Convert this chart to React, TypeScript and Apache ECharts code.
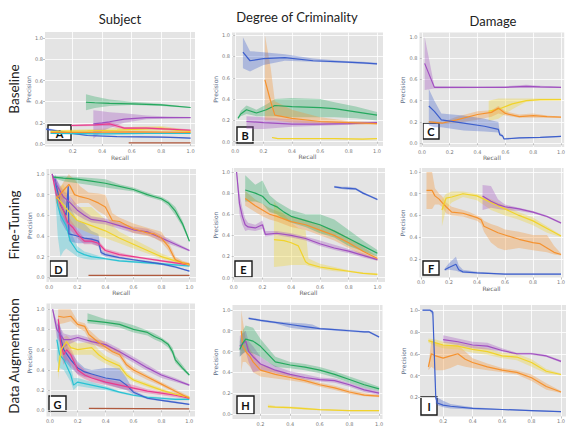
import React, { useEffect, useRef } from "react";
import * as echarts from "echarts";

type Pt = [number, number, number, number]; // recall, precision, lower, upper

const columnTitles = ["Subject", "Degree of Criminality", "Damage"];
const rowTitles = ["Baseline", "Fine-Tuning", "Data Augmentation"];
const panelLetters = ["A", "B", "C", "D", "E", "F", "G", "H", "I"];
const tickValues = [0, 0.2, 0.4, 0.6, 0.8, 1.0];

const COLORS: Record<string, string> = {
  blue: "#3d5fcc",
  orange: "#f5922f",
  green: "#25a85e",
  purple: "#a04fc0",
  yellow: "#f1d32b",
  pink: "#ea3a8d",
  cyan: "#28c2d3",
  brown: "#b05a3e",
};

// ---------- Panel A: Subject / Baseline ----------
const A_green: Pt[] = [[0.29,0.395,0.32,0.47],[0.35,0.39,0.34,0.45],[0.45,0.385,0.36,0.42],[0.6,0.38,0.37,0.40],[0.8,0.37,0.36,0.38],[1.0,0.345,0.34,0.35]];
const A_purple: Pt[] = [[0.34,0.19,0.05,0.32],[0.4,0.2,0.12,0.31],[0.45,0.21,0.15,0.3],[0.55,0.235,0.2,0.29],[0.7,0.25,0.235,0.27],[0.85,0.25,0.24,0.26],[1.0,0.25,0.245,0.255]];
const A_pink: Pt[] = [[0.19,0.175,0.165,0.185],[0.35,0.18,0.17,0.19],[0.45,0.19,0.17,0.21],[0.5,0.17,0.15,0.19],[0.55,0.15,0.14,0.16],[0.7,0.15,0.14,0.16],[0.85,0.14,0.13,0.15],[1.0,0.13,0.12,0.14]];
const A_yellow: Pt[] = [[0.05,0.12,0.11,0.13],[0.3,0.125,0.11,0.14],[0.5,0.13,0.115,0.15],[0.65,0.14,0.12,0.165],[0.8,0.15,0.125,0.17],[0.9,0.13,0.12,0.15],[1.0,0.12,0.11,0.13]];
const A_orange: Pt[] = [[0.05,0.11,0.1,0.12],[0.3,0.11,0.1,0.12],[0.6,0.115,0.105,0.125],[1.0,0.11,0.105,0.115]];
const A_cyan: Pt[] = [[0.05,0.1,0.095,0.105],[0.4,0.095,0.09,0.1],[0.7,0.1,0.095,0.105],[1.0,0.1,0.095,0.105]];
const A_blue: Pt[] = [[0.02,0.14,0.13,0.15],[0.15,0.11,0.1,0.12],[0.3,0.08,0.075,0.085],[0.5,0.07,0.065,0.075],[0.8,0.065,0.06,0.07],[0.92,0.06,0.055,0.065],[1.0,0.055,0.05,0.06]];
const A_brown: Pt[] = [[0.58,0.01,0.008,0.012],[1.0,0.01,0.008,0.012]];

// ---------- Panel B: Degree of Criminality / Baseline ----------
const B_blue: Pt[] = [[0.055,0.84,0.69,0.98],[0.105,0.76,0.66,0.85],[0.2,0.78,0.72,0.84],[0.35,0.79,0.76,0.82],[0.55,0.76,0.75,0.78],[0.75,0.75,0.74,0.76],[0.9,0.74,0.73,0.75],[1.0,0.73,0.725,0.74]];
const B_orange: Pt[] = [[0.21,0.58,0.2,1.0],[0.25,0.38,0.2,0.7],[0.28,0.25,0.2,0.38],[0.4,0.22,0.18,0.3],[0.6,0.19,0.17,0.23],[0.8,0.18,0.165,0.195],[1.0,0.17,0.16,0.18]];
const B_green: Pt[] = [[0.02,0.22,0.21,0.23],[0.04,0.26,0.24,0.29],[0.08,0.3,0.26,0.34],[0.15,0.27,0.24,0.3],[0.22,0.3,0.24,0.35],[0.28,0.34,0.24,0.4],[0.4,0.33,0.23,0.41],[0.6,0.32,0.23,0.4],[0.7,0.31,0.23,0.37],[0.85,0.28,0.22,0.33],[1.0,0.25,0.2,0.28]];
const B_purple: Pt[] = [[0.08,0.19,0.12,0.24],[0.2,0.18,0.12,0.23],[0.4,0.165,0.14,0.21],[0.6,0.165,0.15,0.19],[0.8,0.17,0.16,0.185],[1.0,0.18,0.17,0.19]];
const B_yellow: Pt[] = [[0.26,0.04,0.035,0.045],[0.3,0.03,0.025,0.035],[0.5,0.03,0.025,0.035],[0.7,0.03,0.025,0.035],[0.9,0.025,0.02,0.03],[1.0,0.03,0.025,0.035]];

// ---------- Panel C: Damage / Baseline ----------
const C_purple: Pt[] = [[0.02,0.75,0.5,1.0],[0.09,0.525,0.515,0.535],[0.4,0.525,0.52,0.53],[0.6,0.525,0.52,0.535],[0.75,0.535,0.52,0.55],[0.85,0.53,0.52,0.54],[1.0,0.525,0.52,0.53]];
const C_blue: Pt[] = [[0.05,0.35,0.17,0.51],[0.09,0.3,0.15,0.4],[0.14,0.22,0.15,0.28],[0.3,0.19,0.12,0.26],[0.45,0.16,0.11,0.23],[0.55,0.13,0.1,0.2],[0.56,0.08,0.07,0.1],[0.58,0.07,0.06,0.08],[0.59,0.04,0.035,0.05],[0.7,0.05,0.045,0.055],[0.85,0.055,0.05,0.06],[1.0,0.065,0.06,0.07]];
const C_orange: Pt[] = [[0.05,0.2,0.19,0.21],[0.15,0.19,0.18,0.2],[0.25,0.22,0.19,0.25],[0.4,0.27,0.22,0.3],[0.5,0.29,0.25,0.31],[0.55,0.33,0.28,0.35],[0.6,0.28,0.26,0.3],[0.7,0.25,0.24,0.27],[0.8,0.26,0.24,0.28],[0.9,0.25,0.24,0.26],[1.0,0.245,0.24,0.25]];
const C_yellow: Pt[] = [[0.48,0.3,0.21,0.4],[0.55,0.32,0.23,0.42],[0.65,0.37,0.32,0.42],[0.75,0.4,0.39,0.42],[0.85,0.41,0.4,0.42],[1.0,0.41,0.405,0.42]];

// ---------- Panel D: Subject / Fine-Tuning ----------
const D_green: Pt[] = [[0.03,0.97,0.96,0.98],[0.1,0.96,0.93,0.98],[0.2,0.95,0.91,0.97],[0.3,0.93,0.89,0.96],[0.4,0.91,0.87,0.95],[0.5,0.88,0.85,0.9],[0.6,0.85,0.83,0.87],[0.7,0.8,0.78,0.82],[0.75,0.78,0.76,0.8],[0.8,0.76,0.74,0.78],[0.85,0.72,0.69,0.74],[0.9,0.64,0.6,0.68],[0.95,0.52,0.49,0.55],[0.98,0.42,0.4,0.44],[1.0,0.35,0.34,0.36]];
const D_orange: Pt[] = [[0.05,0.76,0.72,0.8],[0.1,0.84,0.76,0.92],[0.14,0.9,0.8,1.0],[0.15,0.88,0.78,0.98],[0.18,0.8,0.7,0.95],[0.22,0.78,0.72,0.88],[0.28,0.76,0.72,0.82],[0.35,0.72,0.64,0.81],[0.4,0.68,0.6,0.8],[0.45,0.55,0.5,0.62],[0.5,0.54,0.5,0.58],[0.6,0.47,0.43,0.52],[0.7,0.43,0.4,0.48],[0.75,0.42,0.38,0.46],[0.8,0.38,0.34,0.44],[0.85,0.3,0.26,0.34],[0.88,0.22,0.19,0.26],[0.9,0.17,0.15,0.2],[0.95,0.14,0.13,0.16],[1.0,0.13,0.12,0.14]];
const D_purple: Pt[] = [[0.02,1.0,0.98,1.0],[0.05,0.9,0.85,0.95],[0.1,0.78,0.72,0.84],[0.15,0.72,0.65,0.78],[0.2,0.65,0.6,0.7],[0.25,0.6,0.56,0.64],[0.3,0.56,0.53,0.59],[0.4,0.54,0.51,0.57],[0.5,0.5,0.47,0.53],[0.6,0.46,0.43,0.49],[0.7,0.44,0.41,0.47],[0.8,0.38,0.35,0.41],[0.9,0.32,0.3,0.34],[1.0,0.26,0.25,0.27]];
const D_yellow: Pt[] = [[0.05,0.78,0.72,0.86],[0.1,0.7,0.6,0.9],[0.15,0.62,0.52,0.75],[0.2,0.55,0.48,0.68],[0.3,0.5,0.42,0.68],[0.4,0.45,0.38,0.56],[0.5,0.38,0.33,0.44],[0.6,0.32,0.28,0.37],[0.7,0.26,0.23,0.3],[0.8,0.2,0.18,0.23],[0.9,0.16,0.14,0.18],[1.0,0.12,0.11,0.13]];
const D_pink: Pt[] = [[0.02,1.0,0.98,1.0],[0.05,0.8,0.72,0.88],[0.1,0.65,0.58,0.72],[0.13,0.53,0.48,0.6],[0.17,0.48,0.43,0.52],[0.2,0.42,0.38,0.46],[0.25,0.35,0.32,0.38],[0.3,0.35,0.32,0.38],[0.35,0.33,0.3,0.36],[0.4,0.26,0.24,0.28],[0.5,0.22,0.2,0.24],[0.6,0.2,0.19,0.21],[0.7,0.18,0.17,0.19],[0.8,0.16,0.15,0.17],[0.9,0.14,0.13,0.15],[1.0,0.12,0.11,0.13]];
const D_blue: Pt[] = [[0.04,0.95,0.9,1.0],[0.08,0.7,0.55,0.85],[0.12,0.6,0.45,0.72],[0.135,0.88,0.45,0.9],[0.14,0.42,0.35,0.7],[0.2,0.4,0.33,0.55],[0.25,0.38,0.33,0.52],[0.3,0.37,0.33,0.45],[0.35,0.35,0.3,0.42],[0.37,0.24,0.22,0.27],[0.4,0.22,0.2,0.24],[0.5,0.19,0.18,0.2],[0.6,0.17,0.16,0.18],[0.7,0.15,0.14,0.16],[0.8,0.13,0.12,0.14],[0.9,0.1,0.09,0.11],[1.0,0.06,0.055,0.065]];
const D_cyan: Pt[] = [[0.04,0.93,0.85,1.0],[0.06,0.7,0.4,0.85],[0.08,0.6,0.2,0.75],[0.1,0.55,0.25,0.7],[0.12,0.5,0.28,0.6],[0.15,0.35,0.25,0.45],[0.2,0.25,0.2,0.3],[0.25,0.22,0.18,0.25],[0.3,0.2,0.17,0.23],[0.35,0.19,0.17,0.21],[0.4,0.18,0.17,0.19],[0.5,0.16,0.15,0.17],[0.6,0.15,0.14,0.16],[0.7,0.14,0.13,0.15],[0.8,0.13,0.12,0.14],[0.9,0.12,0.11,0.13],[1.0,0.11,0.1,0.12]];
const D_brown: Pt[] = [[0.28,0.02,0.018,0.022],[1.0,0.02,0.018,0.022]];

// ---------- Panel E: Degree of Criminality / Fine-Tuning ----------
const E_blue: Pt[] = [[0.7,0.86,0.85,0.87],[0.75,0.85,0.84,0.86],[0.8,0.845,0.83,0.86],[0.85,0.84,0.83,0.85],[0.9,0.8,0.79,0.81],[0.95,0.77,0.76,0.78],[1.0,0.74,0.73,0.75]];
const E_green: Pt[] = [[0.08,0.83,0.72,0.97],[0.15,0.8,0.72,0.88],[0.2,0.77,0.7,0.92],[0.25,0.7,0.62,0.78],[0.3,0.67,0.6,0.72],[0.35,0.62,0.55,0.68],[0.4,0.58,0.52,0.64],[0.5,0.54,0.48,0.6],[0.6,0.5,0.42,0.6],[0.7,0.44,0.38,0.55],[0.8,0.37,0.3,0.45],[0.9,0.3,0.25,0.35],[1.0,0.23,0.2,0.26]];
const E_orange: Pt[] = [[0.08,0.75,0.68,0.82],[0.15,0.68,0.62,0.74],[0.2,0.64,0.58,0.7],[0.25,0.6,0.55,0.66],[0.3,0.58,0.53,0.63],[0.4,0.53,0.48,0.58],[0.5,0.5,0.45,0.55],[0.6,0.45,0.4,0.5],[0.7,0.4,0.35,0.45],[0.8,0.33,0.28,0.38],[0.9,0.25,0.21,0.29],[1.0,0.18,0.16,0.2]];
const E_purple: Pt[] = [[0.02,1.0,0.98,1.0],[0.04,0.7,0.6,0.8],[0.06,0.58,0.5,0.66],[0.08,0.5,0.44,0.56],[0.1,0.48,0.45,0.52],[0.15,0.47,0.44,0.5],[0.2,0.5,0.46,0.54],[0.22,0.41,0.39,0.44],[0.3,0.42,0.4,0.44],[0.4,0.4,0.38,0.42],[0.5,0.37,0.35,0.39],[0.6,0.32,0.3,0.35],[0.7,0.28,0.26,0.31],[0.8,0.25,0.23,0.27],[0.9,0.21,0.19,0.23],[1.0,0.17,0.16,0.18]];
const E_yellow: Pt[] = [[0.28,0.36,0.1,0.72],[0.35,0.35,0.11,0.6],[0.4,0.33,0.12,0.52],[0.45,0.3,0.12,0.47],[0.5,0.15,0.12,0.45],[0.52,0.13,0.11,0.18],[0.6,0.1,0.08,0.13],[0.7,0.08,0.06,0.1],[0.8,0.06,0.05,0.07],[0.9,0.04,0.035,0.05],[1.0,0.03,0.02,0.04]];

// ---------- Panel F: Damage / Fine-Tuning ----------
const F_orange: Pt[] = [[0.04,0.83,0.66,1.0],[0.08,0.83,0.66,1.0],[0.1,0.78,0.7,0.85],[0.13,0.75,0.7,0.8],[0.15,0.72,0.68,0.78],[0.18,0.68,0.62,0.72],[0.22,0.63,0.6,0.68],[0.3,0.62,0.59,0.65],[0.35,0.6,0.57,0.63],[0.4,0.58,0.55,0.6],[0.43,0.56,0.52,0.58],[0.45,0.5,0.45,0.55],[0.5,0.47,0.35,0.52],[0.55,0.44,0.3,0.5],[0.6,0.42,0.28,0.47],[0.7,0.38,0.3,0.45],[0.8,0.35,0.28,0.42],[0.85,0.34,0.27,0.42],[0.9,0.3,0.26,0.42],[0.95,0.26,0.24,0.32],[1.0,0.24,0.23,0.25]];
const F_yellow: Pt[] = [[0.15,0.65,0.5,0.75],[0.18,0.76,0.66,0.8],[0.22,0.77,0.72,0.82],[0.3,0.8,0.77,0.82],[0.4,0.78,0.74,0.8],[0.5,0.72,0.65,0.75],[0.6,0.66,0.6,0.69],[0.7,0.6,0.56,0.63],[0.8,0.55,0.51,0.58],[0.9,0.48,0.44,0.5],[1.0,0.41,0.4,0.42]];
const F_purple: Pt[] = [[0.44,0.78,0.65,0.88],[0.5,0.73,0.67,0.87],[0.55,0.7,0.66,0.75],[0.6,0.68,0.65,0.7],[0.7,0.66,0.64,0.67],[0.8,0.63,0.62,0.64],[0.9,0.59,0.58,0.6],[1.0,0.53,0.52,0.54]];
const F_blue: Pt[] = [[0.17,0.1,0.09,0.11],[0.2,0.12,0.1,0.16],[0.25,0.15,0.09,0.22],[0.27,0.1,0.08,0.14],[0.3,0.08,0.07,0.1],[0.4,0.07,0.065,0.08],[0.6,0.06,0.055,0.065],[0.8,0.06,0.055,0.065],[1.0,0.06,0.055,0.065]];

// ---------- Panel G: Subject / Data Augmentation ----------
const G_green: Pt[] = [[0.27,0.89,0.86,0.96],[0.4,0.87,0.84,0.9],[0.5,0.85,0.82,0.88],[0.6,0.8,0.77,0.84],[0.7,0.77,0.74,0.79],[0.75,0.73,0.7,0.76],[0.8,0.7,0.67,0.72],[0.85,0.65,0.62,0.67],[0.88,0.58,0.55,0.62],[0.9,0.5,0.47,0.54],[0.95,0.42,0.4,0.45],[1.0,0.35,0.34,0.36]];
const G_orange: Pt[] = [[0.06,0.93,0.85,1.0],[0.1,0.92,0.86,1.0],[0.15,0.93,0.88,1.0],[0.2,0.85,0.82,0.88],[0.25,0.83,0.78,0.86],[0.28,0.75,0.7,0.8],[0.35,0.67,0.63,0.71],[0.45,0.58,0.55,0.62],[0.5,0.55,0.52,0.6],[0.55,0.45,0.42,0.48],[0.6,0.4,0.37,0.43],[0.7,0.33,0.3,0.35],[0.8,0.26,0.24,0.28],[0.9,0.19,0.17,0.21],[1.0,0.12,0.11,0.14]];
const G_purple: Pt[] = [[0.02,1.0,0.98,1.0],[0.05,0.8,0.72,0.88],[0.1,0.7,0.62,0.76],[0.15,0.7,0.66,0.74],[0.2,0.72,0.69,0.75],[0.3,0.68,0.65,0.71],[0.4,0.65,0.62,0.68],[0.5,0.58,0.55,0.61],[0.6,0.5,0.47,0.53],[0.7,0.42,0.39,0.45],[0.8,0.35,0.32,0.37],[0.9,0.3,0.28,0.32],[1.0,0.25,0.24,0.26]];
const G_yellow: Pt[] = [[0.06,0.38,0.3,0.5],[0.08,0.6,0.5,0.7],[0.12,0.68,0.6,0.74],[0.15,0.62,0.55,0.7],[0.2,0.6,0.55,0.66],[0.3,0.62,0.55,0.68],[0.35,0.55,0.5,0.6],[0.4,0.5,0.46,0.54],[0.5,0.44,0.4,0.47],[0.55,0.35,0.32,0.38],[0.6,0.3,0.28,0.32],[0.7,0.25,0.23,0.27],[0.8,0.2,0.18,0.22],[0.9,0.16,0.15,0.17],[1.0,0.13,0.12,0.14]];
const G_pink: Pt[] = [[0.06,0.9,0.8,0.95],[0.08,0.65,0.55,0.75],[0.1,0.55,0.45,0.65],[0.12,0.6,0.5,0.66],[0.15,0.55,0.45,0.62],[0.2,0.4,0.35,0.46],[0.25,0.35,0.31,0.4],[0.3,0.32,0.28,0.36],[0.4,0.28,0.25,0.31],[0.5,0.25,0.22,0.28],[0.6,0.22,0.19,0.25],[0.7,0.19,0.17,0.21],[0.8,0.17,0.15,0.19],[0.9,0.15,0.13,0.17],[1.0,0.12,0.11,0.13]];
const G_blue: Pt[] = [[0.06,0.85,0.75,0.92],[0.08,0.7,0.6,0.8],[0.1,0.6,0.5,0.7],[0.15,0.5,0.42,0.58],[0.2,0.42,0.36,0.48],[0.25,0.38,0.33,0.42],[0.3,0.36,0.32,0.4],[0.4,0.32,0.26,0.42],[0.5,0.3,0.22,0.42],[0.55,0.25,0.2,0.32],[0.6,0.18,0.16,0.2],[0.7,0.12,0.11,0.13],[0.8,0.1,0.09,0.11],[0.9,0.08,0.07,0.09],[1.0,0.06,0.055,0.065]];
const G_cyan: Pt[] = [[0.05,0.7,0.5,0.85],[0.07,0.55,0.42,0.7],[0.1,0.5,0.4,0.6],[0.15,0.35,0.28,0.45],[0.17,0.25,0.2,0.32],[0.2,0.28,0.24,0.32],[0.3,0.25,0.22,0.28],[0.4,0.22,0.2,0.24],[0.5,0.18,0.17,0.19],[0.6,0.15,0.14,0.16],[0.7,0.13,0.12,0.14],[0.8,0.12,0.11,0.13],[0.9,0.11,0.1,0.12],[1.0,0.11,0.1,0.12]];
const G_brown: Pt[] = [[0.28,0.02,0.018,0.022],[1.0,0.015,0.013,0.017]];

// ---------- Panel H: Degree of Criminality / Data Augmentation ----------
const H_blue: Pt[] = [[0.12,0.92,0.91,0.93],[0.2,0.9,0.89,0.91],[0.3,0.88,0.87,0.89],[0.4,0.86,0.83,0.88],[0.5,0.84,0.81,0.87],[0.55,0.83,0.81,0.86],[0.6,0.82,0.81,0.83],[0.7,0.81,0.8,0.82],[0.8,0.8,0.79,0.81],[0.9,0.79,0.78,0.8],[0.93,0.79,0.78,0.8],[1.0,0.74,0.73,0.75]];
const H_orange: Pt[] = [[0.07,0.8,0.4,1.0],[0.08,0.65,0.5,0.9],[0.1,0.6,0.5,0.72],[0.13,0.55,0.45,0.62],[0.15,0.5,0.4,0.58],[0.2,0.42,0.36,0.48],[0.3,0.38,0.34,0.42],[0.4,0.35,0.32,0.38],[0.5,0.32,0.3,0.34],[0.6,0.28,0.26,0.3],[0.7,0.25,0.23,0.27],[0.8,0.21,0.19,0.23],[0.9,0.18,0.17,0.2],[1.0,0.17,0.16,0.18]];
const H_purple: Pt[] = [[0.06,0.65,0.55,0.75],[0.1,0.7,0.6,0.8],[0.12,0.6,0.5,0.7],[0.15,0.55,0.4,0.65],[0.2,0.48,0.42,0.55],[0.25,0.45,0.41,0.5],[0.3,0.42,0.39,0.46],[0.4,0.38,0.36,0.41],[0.5,0.35,0.33,0.38],[0.6,0.33,0.31,0.35],[0.7,0.32,0.3,0.34],[0.8,0.28,0.26,0.3],[0.9,0.23,0.21,0.25],[1.0,0.2,0.18,0.22]];
const H_green: Pt[] = [[0.06,0.62,0.55,0.7],[0.08,0.68,0.58,0.8],[0.1,0.72,0.6,0.85],[0.15,0.7,0.58,0.83],[0.2,0.65,0.55,0.72],[0.3,0.5,0.45,0.55],[0.4,0.47,0.44,0.5],[0.5,0.45,0.42,0.48],[0.6,0.42,0.39,0.45],[0.7,0.38,0.35,0.41],[0.8,0.33,0.3,0.36],[0.9,0.28,0.25,0.31],[1.0,0.24,0.22,0.26]];
const H_yellow: Pt[] = [[0.25,0.07,0.06,0.09],[0.3,0.065,0.055,0.075],[0.4,0.06,0.05,0.07],[0.5,0.05,0.04,0.06],[0.6,0.04,0.035,0.045],[0.8,0.03,0.025,0.035],[1.0,0.03,0.025,0.035]];

// ---------- Panel I: Damage / Data Augmentation ----------
const I_blue: Pt[] = [[0.06,1.0,0.99,1.0],[0.11,1.0,0.99,1.0],[0.13,0.98,0.95,1.0],[0.14,0.6,0.5,0.7],[0.15,0.2,0.14,0.22],[0.16,0.15,0.13,0.2],[0.2,0.13,0.11,0.17],[0.25,0.12,0.1,0.14],[0.4,0.1,0.09,0.11],[0.6,0.09,0.085,0.095],[0.8,0.08,0.075,0.085],[1.0,0.07,0.065,0.075]];
const I_purple: Pt[] = [[0.2,0.73,0.7,0.77],[0.3,0.71,0.68,0.74],[0.4,0.68,0.65,0.71],[0.5,0.67,0.64,0.7],[0.6,0.63,0.62,0.65],[0.7,0.6,0.59,0.61],[0.8,0.6,0.59,0.61],[0.9,0.58,0.57,0.59],[1.0,0.53,0.52,0.54]];
const I_yellow: Pt[] = [[0.1,0.72,0.7,0.74],[0.15,0.7,0.67,0.73],[0.2,0.68,0.65,0.71],[0.3,0.67,0.64,0.7],[0.4,0.64,0.61,0.67],[0.5,0.62,0.59,0.65],[0.6,0.58,0.56,0.61],[0.7,0.57,0.54,0.6],[0.8,0.52,0.48,0.55],[0.9,0.44,0.42,0.46],[1.0,0.41,0.4,0.42]];
const I_orange: Pt[] = [[0.1,0.48,0.45,0.5],[0.12,0.6,0.48,0.72],[0.15,0.58,0.45,0.7],[0.2,0.56,0.45,0.68],[0.25,0.58,0.47,0.68],[0.3,0.6,0.5,0.68],[0.35,0.55,0.48,0.62],[0.4,0.52,0.47,0.56],[0.5,0.48,0.45,0.51],[0.6,0.45,0.43,0.47],[0.7,0.43,0.41,0.45],[0.8,0.38,0.35,0.41],[0.9,0.3,0.27,0.33],[1.0,0.25,0.24,0.26]];

const panelCurves: [string, Pt[]][][] = [
  [["brown", A_brown], ["blue", A_blue], ["cyan", A_cyan], ["orange", A_orange], ["yellow", A_yellow], ["pink", A_pink], ["purple", A_purple], ["green", A_green]],
  [["yellow", B_yellow], ["purple", B_purple], ["green", B_green], ["orange", B_orange], ["blue", B_blue]],
  [["yellow", C_yellow], ["orange", C_orange], ["blue", C_blue], ["purple", C_purple]],
  [["brown", D_brown], ["cyan", D_cyan], ["blue", D_blue], ["pink", D_pink], ["yellow", D_yellow], ["purple", D_purple], ["orange", D_orange], ["green", D_green]],
  [["yellow", E_yellow], ["purple", E_purple], ["orange", E_orange], ["green", E_green], ["blue", E_blue]],
  [["blue", F_blue], ["orange", F_orange], ["yellow", F_yellow], ["purple", F_purple]],
  [["brown", G_brown], ["cyan", G_cyan], ["blue", G_blue], ["pink", G_pink], ["yellow", G_yellow], ["purple", G_purple], ["orange", G_orange], ["green", G_green]],
  [["yellow", H_yellow], ["orange", H_orange], ["purple", H_purple], ["green", H_green], ["blue", H_blue]],
  [["orange", I_orange], ["yellow", I_yellow], ["purple", I_purple], ["blue", I_blue]],
];

// layout: plot box [left, top, right, bottom] in px, axis extents
const panelLayout = [
  { box: [45, 32, 195, 146.5], x: [0.012, 1.03], y: [-0.024, 1.06], label: [48, 125, 23, 15] },
  { box: [232, 32.5, 383, 146], x: [-0.022, 1.042], y: [-0.04, 1.025], label: [237, 127, 16, 16] },
  { box: [419.5, 32.5, 566.5, 147], x: [-0.017, 1.023], y: [-0.035, 1.04], label: [423, 123, 16, 16] },
  { box: [46.5, 169, 196, 282], x: [-0.02, 1.047], y: [-0.045, 1.048], label: [50, 261, 17, 15] },
  { box: [232, 168, 385, 282], x: [-0.012, 1.053], y: [-0.042, 1.038], label: [235, 261, 17, 16] },
  { box: [419.5, 168, 566, 277.5], x: [-0.01, 1.018], y: [0.028, 1.037], label: [423, 261, 16, 14] },
  { box: [46.5, 303.5, 195, 416.5], x: [-0.024, 1.041], y: [-0.06, 1.056], label: [49, 396, 17, 15] },
  { box: [232.5, 305, 382.5, 419], x: [0.011, 1.023], y: [-0.05, 1.048], label: [237, 396, 17, 18] },
  { box: [420, 305, 566.5, 416.5], x: [0.043, 1.034], y: [0.026, 1.046], label: [421, 397, 16, 18] },
];

const colTitlePos = [[120, 19], [297, 17], [493, 21]];
const rowTitlePos = [[14, 89], [14, 225], [14, 356]];

function ticksIn(r: number[]) {
  return tickValues.filter((v) => v >= r[0] - 1e-9 && v <= r[1] + 1e-9);
}

export default function App() {
  const ref = useRef<HTMLDivElement>(null);
  useEffect(() => {
    if (!ref.current) return;
    const chart = echarts.init(ref.current, undefined, { renderer: "svg" });
    const grids: any[] = [];
    const xAxes: any[] = [];
    const yAxes: any[] = [];
    const bands: any[] = [];
    const lines: any[] = [];
    const graphics: any[] = [];

    panelLayout.forEach((p, i) => {
      const [l, t, r, b] = p.box;
      grids.push({
        left: l, top: t, width: r - l, height: b - t,
        show: true, backgroundColor: "#e4e4e4", borderWidth: 0,
      });
      const xt = ticksIn(p.x);
      const yt = ticksIn(p.y);
      const row = Math.floor(i / 3);
      xAxes.push({
        type: "value", gridIndex: i, min: p.x[0], max: p.x[1],
        axisLine: { show: false },
        axisTick: { show: true, length: 2, customValues: xt, lineStyle: { color: "#9a9a9a", width: 0.6 } },
        axisLabel: { customValues: xt, fontSize: 5, color: "#777", margin: 2, fontFamily: "DejaVu Sans", formatter: (v: number) => v.toFixed(1) },
        splitLine: { show: true, lineStyle: { color: "#ffffff", width: 0.8 } },
        name: row < 2 ? "Recall" : "",
        nameLocation: "middle", nameGap: 7,
        nameTextStyle: { fontSize: 6, color: "#666", fontFamily: "DejaVu Sans" },
      });
      yAxes.push({
        type: "value", gridIndex: i, min: p.y[0], max: p.y[1],
        axisLine: { show: false },
        axisTick: { show: true, length: 2, customValues: yt, lineStyle: { color: "#9a9a9a", width: 0.6 } },
        axisLabel: { customValues: yt, fontSize: 5, color: "#777", margin: 2, fontFamily: "DejaVu Sans", formatter: (v: number) => v.toFixed(1) },
        splitLine: { show: true, lineStyle: { color: "#ffffff", width: 0.8 } },
        name: "Precision", nameLocation: "middle", nameGap: 14,
        nameTextStyle: { fontSize: 6, color: "#5d6b86", fontFamily: "DejaVu Sans" },
      });

      panelCurves[i].forEach(([cname, pts]) => {
        const color = COLORS[cname];
        bands.push({
          type: "custom", xAxisIndex: i, yAxisIndex: i, silent: true, z: 1,
          data: pts.map((q) => [q[0], q[2], q[3]]),
          encode: { x: 0, y: [1, 2] },
          renderItem: (params: any, api: any) => {
            if (params.dataIndex !== 0) return null;
            const up = pts.map((q) => api.coord([q[0], q[3]]));
            const lo = pts.map((q) => api.coord([q[0], q[2]])).reverse();
            return {
              type: "polygon",
              shape: { points: up.concat(lo) },
              style: { fill: color, opacity: 0.33 },
            };
          },
        });
        lines.push({
          type: "line", xAxisIndex: i, yAxisIndex: i, silent: true, z: 3,
          data: pts.map((q) => [q[0], q[1]]),
          symbol: "none", showSymbol: false,
          lineStyle: { color, width: 1.2 },
          itemStyle: { color },
        });
      });

      const [bx, by, bw, bh] = p.label;
      graphics.push({
        type: "group", x: bx, y: by, z: 100,
        children: [
          { type: "rect", shape: { x: 0, y: 0, width: bw, height: bh }, style: { fill: "#ffffff", stroke: "#1a1a1a", lineWidth: 1.4 } },
          { type: "text", x: bw / 2, y: bh / 2 + 0.5, style: { text: panelLetters[i], fontSize: 11, fontWeight: "bold", fontFamily: "Lato", fill: "#111", align: "center", verticalAlign: "middle" } },
        ],
      });
    });

    columnTitles.forEach((t, j) => {
      graphics.push({
        type: "text", x: colTitlePos[j][0], y: colTitlePos[j][1],
        style: { text: t, fontSize: 13, fontFamily: "Lato", fill: "#222", align: "center", verticalAlign: "middle" },
      });
    });
    rowTitles.forEach((t, j) => {
      graphics.push({
        type: "text", x: rowTitlePos[j][0], y: rowTitlePos[j][1], rotation: Math.PI / 2,
        style: { text: t, fontSize: 13.5, fontFamily: "Lato", fill: "#222", align: "center", verticalAlign: "middle" },
      });
    });

    chart.setOption({
      animation: false,
      backgroundColor: "#ffffff",
      grid: grids,
      xAxis: xAxes,
      yAxis: yAxes,
      series: [...bands, ...lines],
      graphic: graphics,
    });
    return () => chart.dispose();
  }, []);
  return <div ref={ref} style={{ width: 568, height: 426, position: "fixed", left: 0, top: 0 }} />;
}
